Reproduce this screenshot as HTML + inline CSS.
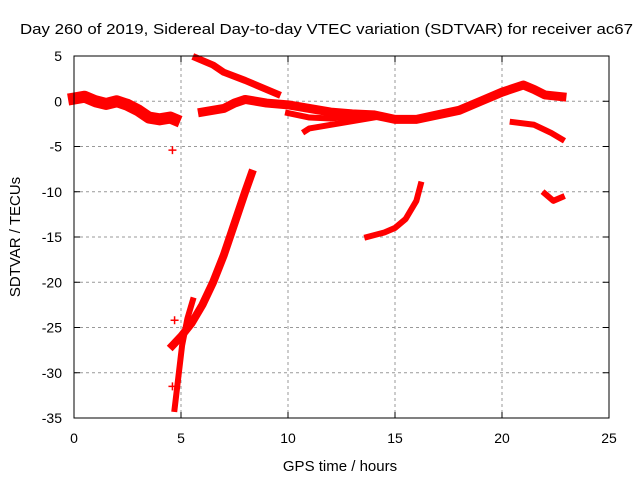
<!DOCTYPE html>
<html><head><meta charset="utf-8"><style>
body{margin:0;background:#fff}
svg{display:block;font-family:"Liberation Sans",sans-serif}
</style></head><body>
<svg id="c" width="640" height="480">
<text x="20" y="34" font-size="15" textLength="613" lengthAdjust="spacingAndGlyphs">Day 260 of 2019, Sidereal Day-to-day VTEC variation (SDTVAR) for receiver ac67</text>
<text x="340" y="471" text-anchor="middle" font-size="15">GPS time / hours</text>
<text transform="translate(20,237) rotate(-90)" text-anchor="middle" font-size="15">SDTVAR / TECUs</text>
<g id="grid"></g><g id="marks"></g>
<rect x="74" y="56" width="535" height="362" fill="none" stroke="#000"/>
</svg>
<script>
const xTicks=[0,5,10,15,20,25];
const yTicks=[5,0,-5,-10,-15,-20,-25,-30,-35];
const bandMain=[[0,0.3],[0.5,0.5],[1,0],[1.5,-0.3],[2,0],[2.5,-0.4],[3,-1],[3.5,-1.8],[4,-2],[4.5,-1.8],[4.7,-2]];
const bandHigh=[[5.7,4.8],[6.5,4],[7,3.2],[8,2.3],[9,1.3],[9.5,0.8]];
const bandLong=[[6,-1.2],[7,-0.8],[7.5,-0.2],[8,0.2],[9,-0.2],[10,-0.4],[11,-0.8],[12,-1.2],[13,-1.4],[14,-1.5],[15,-2],[16,-2],[17,-1.5],[18,-1],[19,0],[20,1],[21,1.8],[21.5,1.3],[22,0.7],[22.8,0.5]];
const bandMid=[[10,-1.3],[11,-1.8],[12,-1.9],[13,-1.7],[14,-1.6]];
const bandLow=[[10.8,-3.3],[11,-3],[12,-2.6],[13,-2.2],[14,-1.8]];
const bandD=[[20.5,-2.3],[21.5,-2.6],[22.3,-3.5],[22.8,-4.2]];
const bandE=[[22,-10.2],[22.4,-11],[22.8,-10.6]];
const bandF=[[13.7,-15],[14.5,-14.5],[15,-14],[15.5,-13],[16,-11],[16.2,-9.2]];
const bandG=[[4.6,-27],[5,-26],[5.5,-24.5],[6,-22.5],[6.5,-20],[7,-17],[7.5,-13.5],[8,-10],[8.3,-8]];
const bandG2=[[4.7,-34],[4.85,-31],[5.05,-27],[5.3,-24],[5.55,-22]];
const isolated=[[4.6,-5.4],[4.7,-24.2],[4.6,-31.5]];
const X=h=>74+h*535/25, Y=v=>56+(5-v)*362/40;
const NS='http://www.w3.org/2000/svg';
const g=document.getElementById('grid'), m=document.getElementById('marks');
function mk(p,tag,a){const e=document.createElementNS(NS,tag);for(const k in a)e.setAttribute(k,a[k]);p.appendChild(e);return e;}
xTicks.forEach(t=>{const x=X(t);
 if(t>0&&t<25){const l=mk(g,'line',{x1:x,x2:x,y1:56,y2:418,stroke:'#999','stroke-dasharray':'3,3'});
 
 }
 mk(g,'line',{x1:x,x2:x,y1:418,y2:412,stroke:'#000'});mk(g,'line',{x1:x,x2:x,y1:56,y2:62,stroke:'#000'});
 const tx=mk(g,'text',{x:x,y:443,'text-anchor':'middle','font-size':14});tx.textContent=t;
 
 });
yTicks.forEach(t=>{const y=Y(t);
 if(t<5&&t>-35){const l=mk(g,'line',{x1:74,x2:609,y1:y,y2:y,stroke:'#999','stroke-dasharray':'3,3'});
 
 }
 mk(g,'line',{x1:74,x2:80,y1:y,y2:y,stroke:'#000'});mk(g,'line',{x1:609,x2:603,y1:y,y2:y,stroke:'#000'});
 const tx=mk(g,'text',{x:62,y:y+5,'text-anchor':'end','font-size':14});tx.textContent=t;
 
 });
const bands=[[bandMain,12,'band-main'],[bandHigh,7,'band-high'],[bandLong,9,'band-long'],[bandMid,6,'band-mid'],[bandLow,6,'band-low'],[bandD,6,'band-d'],[bandE,6,'band-e'],[bandF,6,'band-f'],[bandG,8,'band-g'],[bandG2,6,'band-g2']];
bands.forEach(([d,w,n])=>{const p=mk(m,'polyline',{points:d.map(q=>X(q[0])+','+Y(q[1])).join(' '),fill:'none',stroke:'#f00','stroke-width':w,'stroke-linejoin':'round','stroke-linecap':'square'});
 
 });
isolated.forEach(q=>{const x=X(q[0]),y=Y(q[1]);
 const p=mk(m,'path',{d:`M${x-4},${y}H${x+4}M${x},${y-4}V${y+4}`,stroke:'#f00','stroke-width':1.5});
 
 });
</script>
</body></html>
